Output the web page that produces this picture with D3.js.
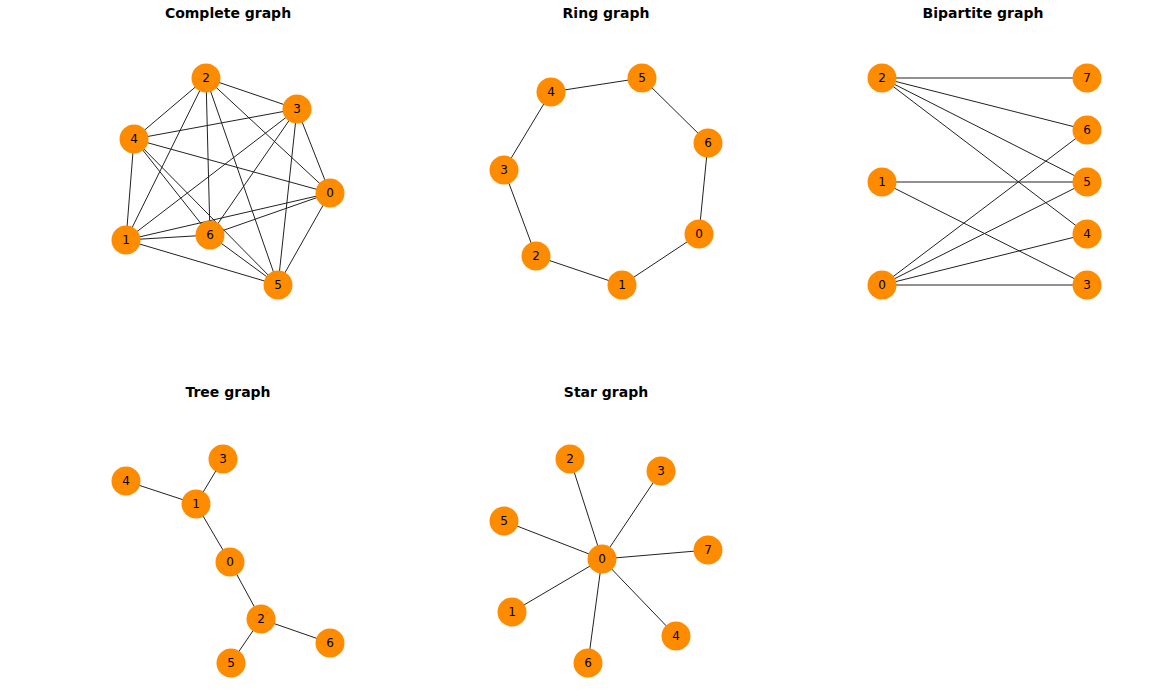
<!DOCTYPE html>
<html>
<head>
<meta charset="utf-8">
<script src="https://cdn.jsdelivr.net/npm/d3@7"></script>
<style>
  body { margin: 0; background: #fff; }
  text { font-family: "DejaVu Sans", sans-serif; }
</style>
</head>
<body>
<svg id="chart" width="1171" height="694"></svg>
<script>
// layout positions in panel units (centre = 0, ±1 roughly the extent)
const completeNodes = [
  { id: 0, x: 1.02, y: -0.11 }, { id: 1, x: -1.02, y: -0.58 }, { id: 2, x: -0.22, y: 1.04 },
  { id: 3, x: 0.69, y: 0.73 }, { id: 4, x: -0.94, y: 0.43 }, { id: 5, x: 0.50, y: -1.03 },
  { id: 6, x: -0.18, y: -0.53 }
];
const completeEdges = [];
for (let i = 0; i < 7; i++) for (let j = i + 1; j < 7; j++) completeEdges.push([i, j]);

const ringNodes = [
  { id: 0, x: 0.93, y: -0.52 }, { id: 1, x: 0.16, y: -1.03 }, { id: 2, x: -0.70, y: -0.74 },
  { id: 3, x: -1.02, y: 0.12 }, { id: 4, x: -0.55, y: 0.90 }, { id: 5, x: 0.36, y: 1.04 },
  { id: 6, x: 1.02, y: 0.39 }
];
const ringEdges = [[0, 1], [1, 2], [2, 3], [3, 4], [4, 5], [5, 6], [6, 0]];

const bipartiteNodes = [
  { id: 0, x: -1.01, y: -1.03 }, { id: 1, x: -1.01, y: 0 }, { id: 2, x: -1.01, y: 1.04 },
  { id: 3, x: 1.04, y: -1.03 }, { id: 4, x: 1.04, y: -0.52 }, { id: 5, x: 1.04, y: 0 },
  { id: 6, x: 1.04, y: 0.52 }, { id: 7, x: 1.04, y: 1.04 }
];
const bipartiteEdges = [[2, 7], [2, 6], [2, 5], [2, 4], [1, 5], [1, 3], [0, 6], [0, 5], [0, 4], [0, 3]];

const treeNodes = [
  { id: 0, x: 0.02, y: -0.01 }, { id: 1, x: -0.32, y: 0.57 }, { id: 2, x: 0.33, y: -0.58 },
  { id: 3, x: -0.05, y: 1.02 }, { id: 4, x: -1.02, y: 0.80 }, { id: 5, x: 0.03, y: -1.02 },
  { id: 6, x: 1.02, y: -0.82 }
];
const treeEdges = [[1, 4], [1, 3], [1, 0], [0, 2], [2, 6], [2, 5]];

const starNodes = [
  { id: 0, x: -0.04, y: 0.02 }, { id: 1, x: -0.94, y: -0.51 }, { id: 2, x: -0.36, y: 1.02 },
  { id: 3, x: 0.55, y: 0.90 }, { id: 4, x: 0.70, y: -0.75 }, { id: 5, x: -1.02, y: 0.40 },
  { id: 6, x: -0.18, y: -1.02 }, { id: 7, x: 1.02, y: 0.11 }
];
const starEdges = [[0, 1], [0, 2], [0, 3], [0, 4], [0, 5], [0, 6], [0, 7]];

const panels = [
  { title: "Complete graph", nodes: completeNodes, edges: completeEdges, cx: 228, cy: 182 },
  { title: "Ring graph", nodes: ringNodes, edges: ringEdges, cx: 606, cy: 182 },
  { title: "Bipartite graph", nodes: bipartiteNodes, edges: bipartiteEdges, cx: 983, cy: 182 },
  { title: "Tree graph", nodes: treeNodes, edges: treeEdges, cx: 228, cy: 561 },
  { title: "Star graph", nodes: starNodes, edges: starEdges, cx: 606, cy: 561 }
];

const svg = d3.select("#chart");

panels.forEach(p => {
  const x = d3.scaleLinear().domain([-1, 1]).range([p.cx - 100, p.cx + 100]);
  const y = d3.scaleLinear().domain([-1, 1]).range([p.cy + 100, p.cy - 100]);
  const byId = new Map(p.nodes.map(n => [n.id, n]));
  const g = svg.append("g");

  g.append("text")
    .attr("x", p.cx).attr("y", p.cy - 164)
    .attr("text-anchor", "middle")
    .attr("font-size", 14).attr("font-weight", "bold")
    .text(p.title);

  g.selectAll("line")
    .data(p.edges)
    .enter()
    .append("line")
    .attr("x1", d => x(byId.get(d[0]).x)).attr("y1", d => y(byId.get(d[0]).y))
    .attr("x2", d => x(byId.get(d[1]).x)).attr("y2", d => y(byId.get(d[1]).y))
    .attr("stroke", "#222").attr("stroke-width", 1);

  g.selectAll("circle")
    .data(p.nodes)
    .enter()
    .append("circle")
    .attr("cx", d => x(d.x)).attr("cy", d => y(d.y))
    .attr("r", 14.5)
    .attr("fill", "#ff8c00");

  g.selectAll("text.label")
    .data(p.nodes)
    .enter()
    .append("text")
    .attr("class", "label")
    .attr("x", d => x(d.x)).attr("y", d => y(d.y))
    .attr("dy", "0.35em")
    .attr("text-anchor", "middle")
    .attr("font-size", 12)
    .text(d => d.id);
});
</script>
</body>
</html>
